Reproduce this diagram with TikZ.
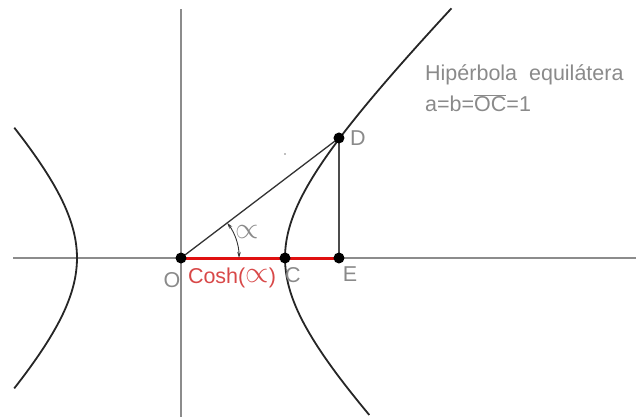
\documentclass[tikz,border=0pt]{standalone}
\usepackage{fontspec}
\setmainfont{Liberation Sans}
\usetikzlibrary{arrows.meta}
\definecolor{txtgray}{HTML}{8A8A8A}
\definecolor{axgray}{HTML}{8C8C8C}
\definecolor{redline}{HTML}{E01010}
\definecolor{redtxt}{HTML}{D84848}
\newcommand{\alf}{\raisebox{0.05em}{\scalebox{1.45}{$\propto$}}}
\begin{document}
\begin{tikzpicture}[x=104pt,y=104pt,
  lbl/.style={text=txtgray,font=\fontsize{21.5}{25}\selectfont,inner sep=0pt},
  axis/.style={draw=axgray,line width=1.3pt},
  curve/.style={draw=black!85,line width=1.8pt},
  thin/.style={draw=black!80,line width=1.3pt},
  pt/.style={circle,fill=black,inner sep=0pt,minimum size=11pt}]
\useasboundingbox (-1.7404,-1.5288) rectangle (4.375,2.4808);
% axes
\coordinate (xl) at (-1.615,0);
\coordinate (xr) at (4.375,0);
\coordinate (yt) at (0,2.39);
\coordinate (yb) at (0,-1.5288);
\draw[axis] (xl) -- (xr);
\draw[axis] (yt) -- (yb);
% points
\coordinate (O) at (0,0);
\coordinate (C) at (1,0);
\coordinate (D) at (1.519,1.154);
\coordinate (E) at (1.519,0);
% hyperbola branches
\draw[curve] plot[domain=-1.2:1.61,samples=80,smooth] ({cosh(\x)},{sinh(\x)});
\draw[curve] plot[domain=-1.05:1.05,samples=60,smooth] ({-cosh(\x)},{sinh(\x)});
% lines
\draw[thin] (O) -- (D);
\draw[draw=black!70,line width=1.3pt] (D) -- (E);
\draw[redline,line width=3pt] (O) -- (E);
% angle arc
\draw[black!80,line width=0.9pt,{Stealth[length=6pt,width=3.5pt]}-{Stealth[length=6pt,width=3.5pt]}]
  (37.2:0.558) arc[start angle=37.2,end angle=0,radius=0.558];
% dots
\node[pt] (nO) at (O) {};
\node[pt] (nC) at (C) {};
\node[pt] (nD) at (D) {};
\node[pt] (nE) at (E) {};
\fill[black!50] (1.0,1.0) circle (0.9pt);
% labels
\node[lbl] (lO) at (-0.087,-0.212) {O};
\node[lbl] (lC) at (1.077,-0.163) {C};
\node[lbl] (lE) at (1.625,-0.154) {E};
\node[lbl] (lD) at (1.702,1.154) {D};
\node[lbl,text=redtxt] (lcosh) at (0.49,-0.192) {Cosh(\alf)};
\node[lbl] (lalpha) at (0.635,0.24) {\alf};
\node[lbl,anchor=west] (t1) at (2.346,1.76) {Hipérbola\ \ equilátera};
\node[lbl,anchor=west] (t2) at (2.346,1.49) {a=b=$\overline{\mbox{OC}}$=1};
\end{tikzpicture}
\end{document}
